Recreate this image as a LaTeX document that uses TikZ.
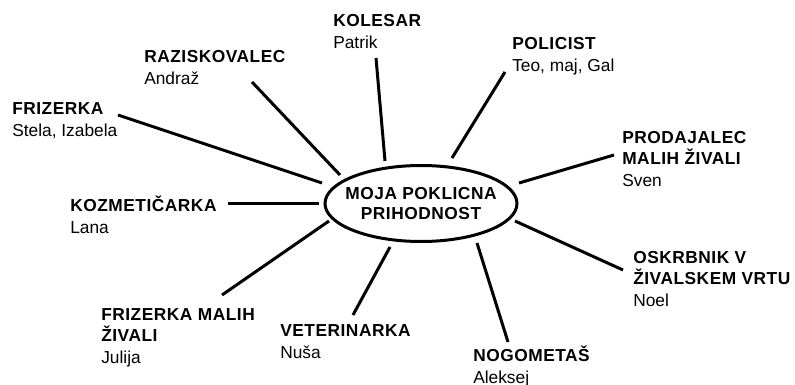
\documentclass[tikz,border=0pt]{standalone}
\usepackage{fontspec}
\setmainfont{Liberation Sans}[BoldFeatures={LetterSpace=3}]
\usetikzlibrary{shapes.geometric}
\begin{document}
\begin{tikzpicture}[x=0.75pt,y=-0.75pt,
  lbl/.style={anchor=base west,align=left,inner sep=0pt,font=\fontsize{13}{16.3}\selectfont},
  link/.style={line width=2.25pt},
  hub/.style={ellipse,draw,line width=2.25pt,minimum width=144pt,minimum height=57pt,inner sep=0pt,align=center,font=\bfseries\fontsize{13}{15.5}\selectfont}]
\useasboundingbox (0,0) rectangle (795,385);
\node[hub] (c) at (421,203.5) {\makebox[0pt]{MOJA POKLICNA}\\\makebox[0pt]{PRIHODNOST}};
% positions are the baselines of the last line of each label
\node[lbl] (kol) at (333,48.7) {\textbf{KOLESAR}\\Patrik};
\node[lbl] (raz) at (144,84.7) {\textbf{RAZISKOVALEC}\\Andraž};
\node[lbl] (fri) at (12,136.7) {\textbf{FRIZERKA}\\Stela, Izabela};
\node[lbl] (pol) at (512,71.7) {\textbf{POLICIST}\\Teo, maj, Gal};
\node[lbl] (pro) at (622,186.5) {\textbf{PRODAJALEC}\\\textbf{MALIH ŽIVALI}\\Sven};
\node[lbl] (koz) at (70,233.7) {\textbf{KOZMETIČARKA}\\Lana};
\node[lbl] (frm) at (101,363.5) {\textbf{FRIZERKA MALIH}\\\textbf{ŽIVALI}\\Julija};
\node[lbl] (vet) at (280,358.7) {\textbf{VETERINARKA}\\Nuša};
\node[lbl] (osk) at (633,306.5) {\textbf{OSKRBNIK V}\\\textbf{ŽIVALSKEM VRTU}\\Noel};
\node[lbl] (nog) at (473,383) {\textbf{NOGOMETAŠ}\\Aleksej};
\coordinate (kolA) at (376,58);  \coordinate (kolB) at (385,161);
\coordinate (razA) at (252,82);  \coordinate (razB) at (340,175);
\coordinate (friA) at (118,115); \coordinate (friB) at (322,183);
\coordinate (polA) at (505,72);  \coordinate (polB) at (452,158);
\coordinate (proA) at (614,155); \coordinate (proB) at (519,183);
\coordinate (kozA) at (228,203); \coordinate (kozB) at (319,203);
\coordinate (frmA) at (222,295); \coordinate (frmB) at (329,221);
\coordinate (vetA) at (353,315); \coordinate (vetB) at (390,247);
\coordinate (nogA) at (508,342); \coordinate (nogB) at (477,243);
\coordinate (oskA) at (623,270); \coordinate (oskB) at (515,221);
\foreach \n in {kol,raz,fri,pol,pro,koz,frm,vet,nog,osk}
  \draw[link] (\n A) -- (\n B);
\end{tikzpicture}
\end{document}
